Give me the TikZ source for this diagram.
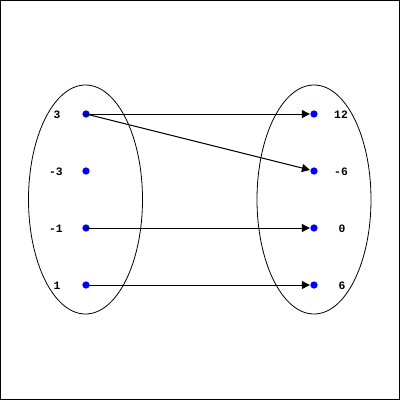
\documentclass[tikz,border=0pt]{standalone}
\usepackage{fontspec}
\setmonofont{Liberation Mono}
\usetikzlibrary{arrows.meta}
\begin{document}
\begin{tikzpicture}[x=0.75pt,y=-0.75pt,line width=0.75pt,
  dot/.style={circle,fill=blue,inner sep=0pt,minimum size=5.5pt},
  lab/.style={font=\ttfamily\bfseries\fontsize{8.5}{10}\selectfont,inner sep=0pt},
  arr/.style={-{Triangle[length=6pt,width=6pt]}},
  oval/.style={draw=black,line width=0.6pt}]
\draw[line width=0.75pt] (0.5,0.5) rectangle (399.5,399.5);
\draw[oval] (85.5,199.5) ellipse [x radius=57, y radius=114.5];
\draw[oval] (314,199.5) ellipse [x radius=57, y radius=114.5];
\node[dot] (a1) at (86,114) {};
\node[dot] (a2) at (86,171) {};
\node[dot] (a3) at (86,228) {};
\node[dot] (a4) at (86,285) {};
\node[dot] (b1) at (314,114) {};
\node[dot] (b2) at (314,171) {};
\node[dot] (b3) at (314,228) {};
\node[dot] (b4) at (314,285) {};
\node[lab] (la1) at (57,115) {3};
\node[lab] (la2) at (56,172) {-3};
\node[lab] (la3) at (56,229) {-1};
\node[lab] (la4) at (57,286) {1};
\node[lab] (lb1) at (341,115) {12};
\node[lab] (lb2) at (341,172) {-6};
\node[lab] (lb3) at (342,229) {0};
\node[lab] (lb4) at (342,286) {6};
\draw[arr] (a1.center) -- (b1);
\draw[arr] (a1.center) -- (b2);
\draw[arr] (a3.center) -- (b3);
\draw[arr] (a4.center) -- (b4);
\end{tikzpicture}
\end{document}
